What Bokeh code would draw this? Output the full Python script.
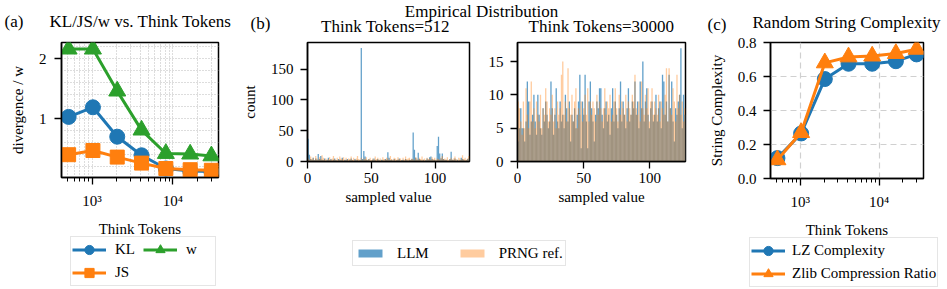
import numpy as np
from bokeh.plotting import figure
from bokeh.layouts import row, column
from bokeh.models import Legend, LegendItem, Label, FixedTicker, Range1d, NumeralTickFormatter
from bokeh.embed import file_html
from bokeh.resources import INLINE

FONT = "Liberation Serif"

# ---------------- data ----------------
tokens = [512, 1024, 2048, 4096, 8192, 16384, 30000]
kl_vals = [1.03, 1.19, 0.70, 0.39, 0.17, 0.13, 0.12]
js_vals = [0.40, 0.47, 0.36, 0.26, 0.17, 0.15, 0.14]
w_vals = [2.16, 2.16, 1.46, 0.81, 0.42, 0.41, 0.38]

lz_vals = [0.12, 0.265, 0.585, 0.675, 0.675, 0.69, 0.73]
zlib_vals = [0.11, 0.27, 0.68, 0.715, 0.72, 0.735, 0.76]

log_major = [1000, 10000]
log_minor = [500, 600, 700, 800, 900, 2000, 3000, 4000, 5000, 6000, 7000, 8000, 9000, 20000, 30000]
log_labels = {1000: "10\u00b3", 10000: "10\u2074"}

n_bins = 128
bin_max = 127

llm_512 = [37, 11, 4, 3, 6, 2, 5, 3, 12, 4, 9, 3, 2, 5, 0, 3,
           6, 2, 4, 1, 3, 5, 2, 0, 4, 3, 2, 6, 1, 3, 2, 4,
           0, 3, 5, 2, 1, 4, 2, 3, 1, 2, 184, 4, 17, 8, 3, 2,
           4, 1, 0, 3, 5, 2, 1, 4, 2, 0, 3, 2, 1, 4, 3, 15,
           6, 2, 3, 1, 4, 0, 2, 3, 5, 1, 2, 3, 0, 4, 2, 1,
           3, 2, 4, 47, 19, 6, 3, 14, 4, 2, 1, 3, 0, 2, 5, 3,
           7, 8, 4, 2, 3, 1, 25, 40, 13, 5, 13, 4, 2, 3, 1, 0,
           4, 16, 3, 2, 5, 1, 3, 0, 2, 6, 4, 3, 1, 2, 4, 5]
prng_512 = [5, 3, 8, 4, 6, 2, 9, 5, 3, 7, 4, 10, 6, 3, 5, 2,
            4, 7, 3, 5, 9, 4, 2, 6, 3, 8, 5, 4, 7, 2, 6, 3,
            5, 4, 8, 3, 6, 2, 5, 9, 4, 3, 6, 2, 5, 4, 7, 3,
            4, 6, 2, 5, 3, 8, 4, 6, 3, 5, 2, 7, 4, 3, 6, 5,
            3, 9, 4, 2, 6, 5, 3, 7, 4, 5, 2, 6, 3, 8, 4, 5,
            6, 3, 5, 4, 2, 7, 5, 3, 6, 4, 8, 3, 5, 2, 6, 4,
            5, 3, 7, 4, 6, 2, 5, 4, 3, 6, 9, 4, 5, 3, 7, 2,
            4, 6, 3, 5, 8, 4, 2, 6, 5, 3, 10, 4, 6, 3, 5, 9]
llm_30000 = [3, 5, 8, 5, 5, 3, 6, 12, 9, 4, 6, 7, 10, 6, 4, 10,
             7, 5, 4, 8, 6, 9, 7, 5, 6, 12, 8, 4, 7, 11, 6, 5,
             9, 6, 7, 5, 10, 8, 6, 9, 3, 7, 6, 8, 5, 7, 9, 13,
             2, 9, 7, 13, 6, 2, 9, 12, 8, 6, 3, 7, 9, 8, 11, 11,
             7, 5, 8, 9, 6, 7, 4, 8, 11, 6, 9, 7, 5, 8, 12, 6,
             9, 7, 5, 8, 11, 6, 7, 9, 8, 12, 7, 9, 5, 12, 8, 15,
             6, 9, 11, 7, 5, 8, 9, 6, 7, 10, 6, 8, 9, 5, 13, 12,
             7, 9, 6, 13, 8, 12, 6, 3, 8, 7, 9, 10, 17, 5, 10, 7]
prng_30000 = [9, 8, 6, 4, 9, 5, 11, 7, 5, 9, 12, 6, 8, 5, 9, 7,
              6, 10, 5, 8, 7, 11, 9, 6, 8, 7, 10, 6, 8, 5, 9, 7,
              8, 13, 15, 7, 9, 6, 14, 8, 7, 10, 6, 9, 11, 5, 8, 7,
              9, 6, 8, 10, 7, 11, 6, 9, 7, 9, 8, 6, 10, 7, 9, 8,
              6, 8, 11, 7, 9, 8, 10, 6, 7, 9, 11, 8, 6, 10, 7, 9,
              8, 7, 10, 6, 9, 8, 7, 10, 9, 13, 8, 7, 9, 6, 12, 8,
              7, 10, 8, 11, 6, 9, 11, 7, 9, 8, 7, 10, 6, 9, 8, 7,
              10, 14, 6, 14, 8, 7, 11, 9, 6, 13, 8, 10, 7, 9, 6, 8]

C0, C1, C2 = "#1f77b4", "#ff7f0e", "#2ca02c"
BB = 111  # common bottom border
W, H = 947, 289


def base_style(p):
    p.outline_line_color = "black"
    p.outline_line_width = 1.5
    for ax in p.axis:
        ax.axis_line_color = "black"
        ax.axis_line_width = 1.5
        ax.major_tick_out = 7
        ax.major_tick_in = 0
        ax.minor_tick_out = 4
        ax.minor_tick_in = 0
        ax.major_tick_line_width = 1.3
        ax.minor_tick_line_width = 1.0
        ax.major_label_text_font = FONT
        ax.major_label_text_font_size = "15px"
        ax.major_label_text_color = "black"
        ax.axis_label_text_font = FONT
        ax.axis_label_text_font_size = "15px"
        ax.axis_label_text_font_style = "normal"
        ax.axis_label_text_color = "black"


# ---------------- panel (a) ----------------
fA = figure(width=238, height=177 + BB, x_axis_type="log", x_range=Range1d(418, 36750),
            y_range=Range1d(0.02, 2.27), min_border_left=61, min_border_right=20,
            min_border_top=42, min_border_bottom=BB, toolbar_location=None,
            output_backend="svg", title=None)
base_style(fA)
tA = FixedTicker(ticks=log_major, minor_ticks=log_minor)
fA.xaxis.ticker = tA
fA.xaxis.major_label_overrides = log_labels
fA.xaxis.major_label_standoff = 8
fA.xaxis.axis_label = "Think Tokens"
fA.xaxis.axis_label_standoff = 9
tAy = FixedTicker(ticks=[1, 2], minor_ticks=[0.2, 0.4, 0.6, 0.8, 1.2, 1.4, 1.6, 1.8, 2.2])
fA.yaxis.ticker = tAy
fA.yaxis.minor_tick_out = 0
fA.yaxis.major_label_standoff = 8
fA.yaxis.axis_label = "divergence / w"
fA.yaxis.axis_label_standoff = 10
fA.xgrid.ticker = tA
fA.ygrid.ticker = tAy
for g in (fA.xgrid, fA.ygrid):
    g.grid_line_color = "#bbbbbb"
    g.grid_line_dash = "1 2"
    g.minor_grid_line_color = "#bbbbbb"
    g.minor_grid_line_dash = "1 2"

fA.line(tokens, kl_vals, line_color=C0, line_width=3)
fA.scatter(tokens, kl_vals, marker="circle", size=15, color=C0)
fA.line(tokens, js_vals, line_color=C1, line_width=3)
fA.scatter(tokens, js_vals, marker="square", size=14, color=C1)
fA.line(tokens, w_vals, line_color=C2, line_width=3)
fA.scatter(tokens, w_vals, marker="triangle", size=17, color=C2)

# ---------------- panel (b) ----------------
edges = np.linspace(0, bin_max, n_bins + 1)


def hist_fig(width, bl, br, ymax, yticks, llm, prng):
    p = figure(width=width, height=161 + BB, x_range=Range1d(0, bin_max), y_range=Range1d(0, ymax),
               min_border_left=bl, min_border_right=br, min_border_top=39,
               min_border_bottom=BB, toolbar_location=None, output_backend="svg", title=None)
    base_style(p)
    p.xaxis.ticker = FixedTicker(ticks=[0, 50, 100])
    p.yaxis.ticker = FixedTicker(ticks=yticks)
    p.xaxis.major_label_standoff = 4
    p.yaxis.major_label_standoff = 7
    p.xaxis.axis_label = "sampled value"
    p.xaxis.axis_label_standoff = 3
    p.xgrid.visible = False
    p.ygrid.visible = False
    p.quad(left=edges[:-1], right=edges[1:], bottom=0, top=llm,
           fill_color=C0, fill_alpha=0.7, line_color=None)
    p.quad(left=edges[:-1], right=edges[1:], bottom=0, top=prng,
           fill_color=C1, fill_alpha=0.4, line_color=None)
    return p


fB1 = hist_fig(247, 63, 16, 193, [0, 50, 100, 150], llm_512, prng_512)
fB1.yaxis.axis_label = "count"
fB1.yaxis.axis_label_standoff = 10
fB2 = hist_fig(220, 32, 20, 17.85, [0, 5, 10, 15], llm_30000, prng_30000)

# ---------------- panel (c) ----------------
fC = figure(width=242, height=178 + BB, x_axis_type="log", x_range=Range1d(418, 36750),
            y_range=Range1d(0, 0.8), min_border_left=64, min_border_right=24,
            min_border_top=42, min_border_bottom=BB, toolbar_location=None,
            output_backend="svg", title=None)
base_style(fC)
tC = FixedTicker(ticks=log_major, minor_ticks=log_minor)
fC.xaxis.ticker = tC
fC.xaxis.major_label_overrides = log_labels
fC.xaxis.major_label_standoff = 8
fC.xaxis.axis_label = "Think Tokens"
fC.xaxis.axis_label_standoff = 9
tCy = FixedTicker(ticks=[0, 0.2, 0.4, 0.6, 0.8])
fC.yaxis.ticker = tCy
fC.yaxis.formatter = NumeralTickFormatter(format="0.0")
fC.yaxis.minor_tick_out = 0
fC.yaxis.major_label_standoff = 7
fC.yaxis.axis_label = "String Complexity"
fC.yaxis.axis_label_standoff = 10
fC.xgrid.ticker = FixedTicker(ticks=log_major)
fC.ygrid.ticker = tCy
for g in (fC.xgrid, fC.ygrid):
    g.grid_line_color = "#d0d0d0"
    g.grid_line_dash = "6 4"
    g.grid_line_width = 1.2

fC.line(tokens, lz_vals, line_color=C0, line_width=3)
fC.scatter(tokens, lz_vals, marker="circle", size=15, color=C0)
fC.line(tokens, zlib_vals, line_color=C1, line_width=3)
fC.scatter(tokens, zlib_vals, marker="triangle", size=17, color=C1)

# ---------------- overlay for titles and legends ----------------
ov = figure(width=W, height=H, x_range=Range1d(0, W), y_range=Range1d(H, 0),
            x_axis_type=None, y_axis_type=None, min_border=0, min_border_left=0,
            min_border_right=0, min_border_top=0, min_border_bottom=0,
            toolbar_location=None, output_backend="svg", title=None)
ov.outline_line_color = None
ov.background_fill_color = None
ov.border_fill_color = None


def lab(text, x, y, size="17px", align="center"):
    ov.add_layout(Label(x=x, y=y, text=text, text_font=FONT, text_font_size=size,
                        text_align=align, text_baseline="middle", text_color="black"))


lab("(a)", 4, 21, align="left")
lab("KL/JS/w vs. Think Tokens", 140, 21)
lab("(b)", 250, 23, align="left")
lab("Think Tokens=512", 385, 26)
lab("Empirical Distribution", 481, 11)
lab("Think Tokens=30000", 601, 26)
lab("(c)", 707, 24, align="left")
lab("Random String Complexity", 846, 22)

# hidden legend proxies carrying the series styles
pk_l = ov.line(tokens, kl_vals, line_color=C0, line_width=3, visible=False)
pk_s = ov.scatter(tokens, kl_vals, marker="circle", size=15, color=C0, visible=False)
pj_l = ov.line(tokens, js_vals, line_color=C1, line_width=3, visible=False)
pj_s = ov.scatter(tokens, js_vals, marker="square", size=14, color=C1, visible=False)
pw_l = ov.line(tokens, w_vals, line_color=C2, line_width=3, visible=False)
pw_s = ov.scatter(tokens, w_vals, marker="triangle", size=17, color=C2, visible=False)
pb1 = ov.quad(left=edges[:-1], right=edges[1:], bottom=0, top=llm_512,
              fill_color=C0, fill_alpha=0.7, line_color=None, visible=False)
pb2 = ov.quad(left=edges[:-1], right=edges[1:], bottom=0, top=prng_512,
              fill_color=C1, fill_alpha=0.4, line_color=None, visible=False)
pc1_l = ov.line(tokens, lz_vals, line_color=C0, line_width=3, visible=False)
pc1_s = ov.scatter(tokens, lz_vals, marker="circle", size=15, color=C0, visible=False)
pc2_l = ov.line(tokens, zlib_vals, line_color=C1, line_width=3, visible=False)
pc2_s = ov.scatter(tokens, zlib_vals, marker="triangle", size=17, color=C1, visible=False)


def style_legend(lg):
    lg.label_text_font = FONT
    lg.label_text_font_size = "15px"
    lg.label_text_color = "black"
    lg.border_line_color = "#cccccc"
    lg.border_line_width = 1.5
    lg.background_fill_color = "white"
    lg.background_fill_alpha = 0.8
    lg.inactive_fill_alpha = 0.0
    lg.margin = 0


# legend location = its bottom-left corner, in pixels from the canvas bottom-left
legA = Legend(items=[LegendItem(label="KL", renderers=[pk_l, pk_s]),
                     LegendItem(label="JS", renderers=[pj_l, pj_s]),
                     LegendItem(label="w", renderers=[pw_l, pw_s])],
              location=(70, H - 286), nrows=2, glyph_width=34, glyph_height=23,
              label_height=20, label_standoff=9, label_width=28, spacing=0, padding=1)
style_legend(legA)
ov.add_layout(legA)

legB = Legend(items=[LegendItem(label="LLM", renderers=[pb1]),
                     LegendItem(label="PRNG ref.", renderers=[pb2])],
              location=(352, H - 266), orientation="horizontal", glyph_width=30, glyph_height=10,
              label_height=20, label_standoff=12, spacing=28, padding=2)
style_legend(legB)
ov.add_layout(legB)

legC = Legend(items=[LegendItem(label="LZ Complexity", renderers=[pc1_l, pc1_s]),
                     LegendItem(label="Zlib Compression Ratio", renderers=[pc2_l, pc2_s])],
              location=(749, H - 287), glyph_width=34, glyph_height=23, label_height=20,
              label_standoff=7, spacing=0, padding=1)
style_legend(legC)
ov.add_layout(legC)

main = row(fA, fB1, fB2, fC, margin=(0, 0, 0, 0))
over = column(ov, margin=(-H, 0, 0, 0))
open("out.html", "w").write(file_html([main, over], INLINE))
